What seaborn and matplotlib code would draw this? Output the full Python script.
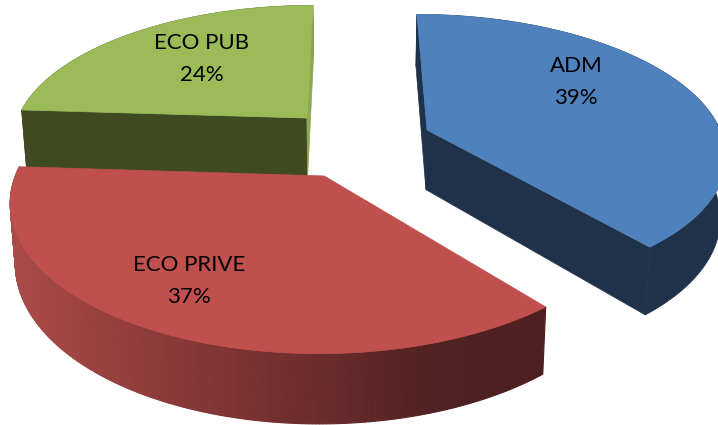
import numpy as np
import seaborn as sns
import matplotlib.pyplot as plt

# data
categories = ["ADM", "ECO PRIVE", "ECO PUB"]
values = [39, 37, 24]
top_colors = ["#4F81BD", "#C0504D", "#9BBB59"]
side_colors = ["#1F3249", "#7A2F2D", "#404A22"]
# colour of the cut faces: first edge, last edge (going clockwise)
cut_colors = [("#1F3249", "#1F3249"), ("#4E1F1F", "#4E1F1F"), ("#404A22", "#8CA850")]
label_pos = [(576, 82), (189, 281), (202, 59)]
explode = [(0.256, 0.146), (-0.09, -0.18), (-0.156, 0.237)]
depths = [61, 57, 62]

# red rim colour along x
rim_x = [15, 170, 300, 440, 545]
rim_rgb = np.array([[0xAA, 0x4B, 0x48], [0x8B, 0x39, 0x38], [0x6E, 0x2E, 0x2D],
                    [0x4F, 0x21, 0x20], [0x4E, 0x1F, 0x1F]]) / 255

sns.set_theme(style="white")
plt.rcParams['font.family'] = ['Lato', 'DejaVu Sans']

# camera
cx, cy = 352, 150
R, S, k, v = 300, 140, 0.16, 0.015


def project(X, Y, Z, D):
    w = 1 + k * Y
    return cx + R * X / w * (1 - v * Z), cy - S * Y / w + D * Z / w


def shade(x):
    return tuple(np.interp(x, rim_x, rim_rgb[:, c]) for c in range(3))


fig, ax = plt.subplots(figsize=(7.18, 4.25), dpi=100)
fig.subplots_adjust(0, 0, 1, 1)
ax.set_xlim(0, 718)
ax.set_ylim(425, 0)
ax.axis('off')

# start angle, going clockwise
fracs = np.array(values) / sum(values) * 360
starts = 90 - np.concatenate([[0], np.cumsum(fracs)[:-1]])

for i in [2, 0, 1]:
    a0, a1 = starts[i], starts[i] - fracs[i]
    th = np.radians(np.linspace(a0, a1, 240))
    ox, oy = explode[i]
    D = depths[i]
    X = ox + np.cos(th)
    Y = oy + np.sin(th)

    # rim
    if i == 1:
        for n in range(len(th) - 1):
            xs = np.array([X[n], X[n + 1], X[n + 1], X[n]])
            ys = np.array([Y[n], Y[n + 1], Y[n + 1], Y[n]])
            px, py = project(xs, ys, np.array([0, 0, 1, 1]), D)
            ax.fill(px, py, color=shade(px.mean()), lw=0.8)
    else:
        px, py = project(np.r_[X, X[::-1]], np.r_[Y, Y[::-1]],
                         np.r_[np.zeros_like(X), np.ones_like(X)], D)
        ax.fill(px, py, color=side_colors[i], lw=0.5)

        # cut faces, the red ones stay hidden under its top
        for n, j in enumerate([0, -1]):
            px, py = project(np.array([ox, X[j], X[j], ox]), np.array([oy, Y[j], Y[j], oy]),
                             np.array([0, 0, 1, 1]), D)
            ax.fill(px, py, color=cut_colors[i][n], lw=0.5)

    # top
    px, py = project(np.r_[ox, X], np.r_[oy, Y], np.zeros(len(X) + 1), D)
    ax.fill(px, py, color=top_colors[i], lw=0.5)

    ax.text(label_pos[i][0], label_pos[i][1], f"{categories[i]}\n{values[i]}%",
            ha='center', va='center', fontsize=16, color='black', linespacing=1.8)

fig.savefig("out.png", dpi=100)
